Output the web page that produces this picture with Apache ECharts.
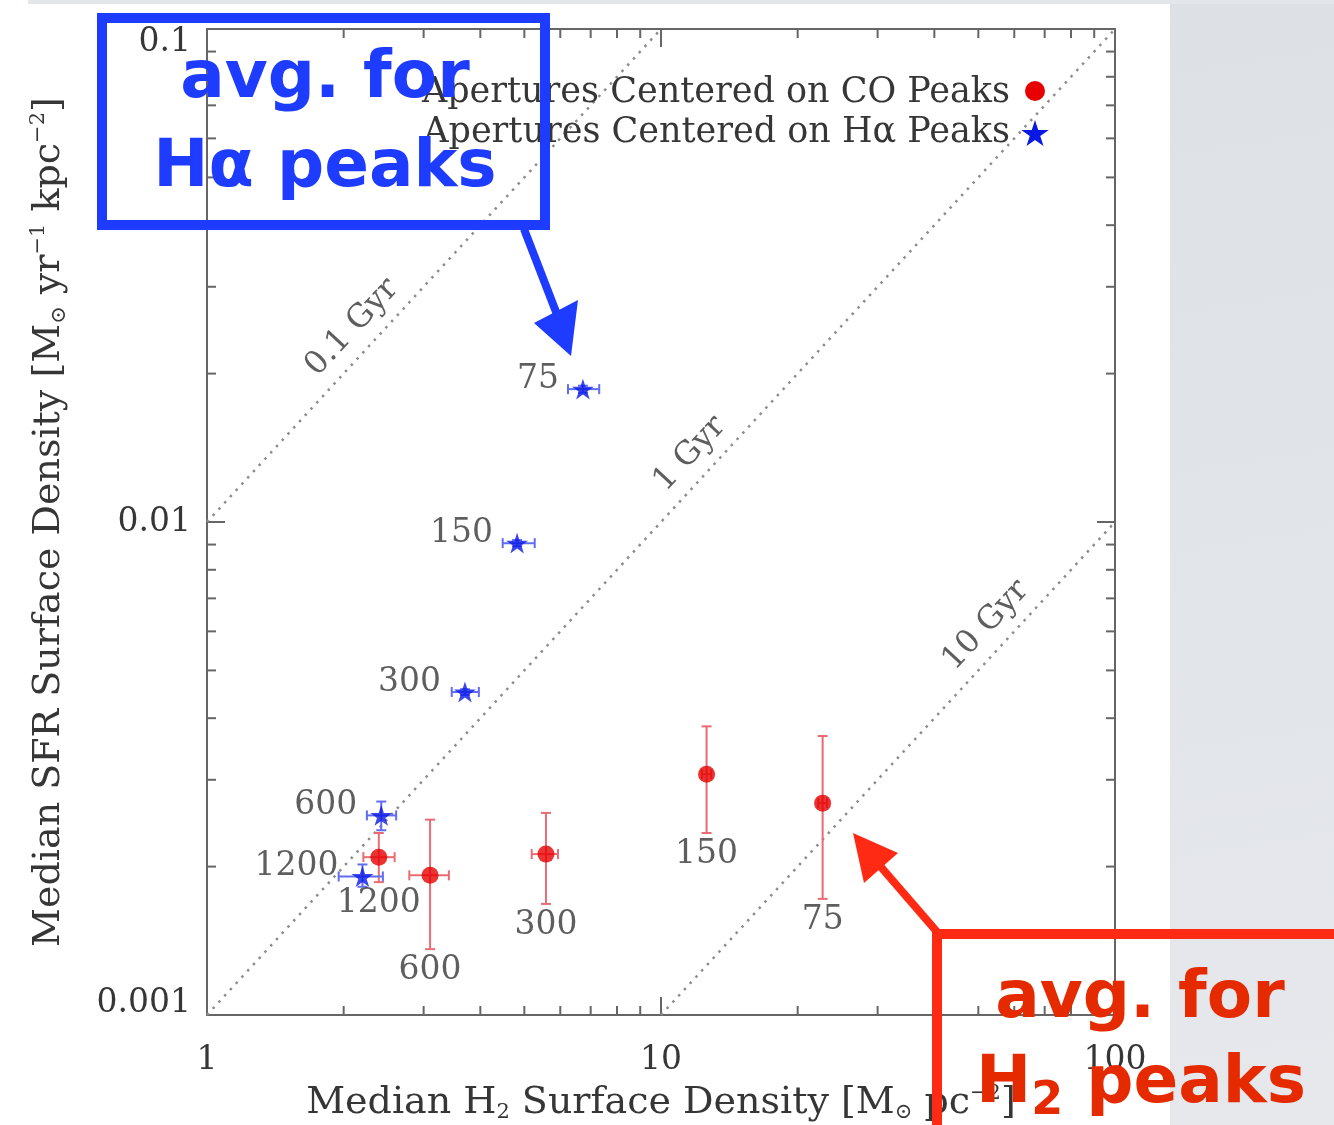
<!DOCTYPE html>
<html>
<head>
<meta charset="utf-8">
<script src="https://cdn.jsdelivr.net/npm/echarts@6/dist/echarts.min.js"></script>
<style>
  html, body { margin: 0; padding: 0; background: #ffffff; }
  #chart { width: 1334px; height: 1125px; }
</style>
</head>
<body>
<div id="chart"></div>
<script>
// Aperture sizes (pc) attached to each point
const scaleLabels = ['75', '150', '300', '600', '1200'];

// Apertures centered on CO peaks: median H2 / SFR surface density and their ranges
const coH2 = [22.7, 12.6, 5.58, 3.10, 2.39];
const coSFR = [0.00269, 0.00308, 0.00212, 0.00192, 0.00209];
const coH2Low = [22.2, 12.3, 5.19, 2.79, 2.21];
const coH2High = [23.2, 12.9, 5.93, 3.41, 2.59];
const coSFRLow = [0.00172, 0.00234, 0.00168, 0.00136, 0.00186];
const coSFRHigh = [0.00368, 0.00385, 0.00257, 0.00249, 0.00234];

// Apertures centered on H-alpha peaks
const haH2 = [6.73, 4.82, 3.70, 2.42, 2.20];
const haSFR = [0.0186, 0.00906, 0.00452, 0.00254, 0.00191];
const haH2Low = [6.24, 4.48, 3.46, 2.25, 1.95];
const haH2High = [7.31, 5.27, 3.97, 2.61, 2.44];
const haSFRLow = [0.0183, 0.00893, 0.00446, 0.00237, 0.00182];
const haSFRHigh = [0.0189, 0.00919, 0.00458, 0.00271, 0.00202];

// Constant depletion-time lines, as [H2, SFR] end points inside the frame
const gyrNames = ['0.1 Gyr', '1 Gyr', '10 Gyr'];
const gyrLines = [
  [[1, 0.01], [10, 0.1]],
  [[1, 0.001], [100, 0.1]],
  [[10, 0.001], [100, 0.01]]
];
// where along each line its name is written
const gyrLabelAt = [[2.29, 0.0229], [12.7, 0.0127], [57, 0.0057]];

// axis ticks
const xTickLabels = ['1', '10', '100'];
const yTickLabels = ['0.001', '0.01', '0.1'];
const xMinorTicks = [2, 3, 4, 5, 6, 7, 8, 9, 20, 30, 40, 50, 60, 70, 80, 90];
const yMinorTicks = [0.002, 0.003, 0.004, 0.005, 0.006, 0.007, 0.008, 0.009,
                     0.02, 0.03, 0.04, 0.05, 0.06, 0.07, 0.08, 0.09];

const CO_NAME = 'Apertures Centered on CO Peaks';
const HA_NAME = 'Apertures Centered on H\u03b1 Peaks';

const SERIF = '"DejaVu Serif", "Liberation Serif", serif';
const CALLOUT = '"DejaVu Sans", "Open Sans", sans-serif';
const AXIS_GREY = '#666666';
const TEXT_GREY = '#363636';
const CO_RED = '#e60000';
const HA_BLUE = '#0a18e6';

// five-pointed star outline in a 100-unit box
const STAR_PTS = [[50, 0], [61.2, 34.6], [97.6, 34.5], [68.1, 55.9], [79.4, 90.5],
                  [50, 69], [20.6, 90.5], [31.9, 55.9], [2.4, 34.5], [38.8, 34.6]];
const STAR = 'path://M' + STAR_PTS.map(p => p[0] + ',' + p[1]).join('L') + 'Z';

function starAt(cx, cy, size) {
  const k = size / 100;
  return STAR_PTS.map(p => [cx + (p[0] - 50) * k, cy + (p[1] - 45.25) * k]);
}

function rows(x, y, xl, xh, yl, yh) {
  return x.map((v, i) => [v, y[i], xl[i], xh[i], yl[i], yh[i]]);
}

// error bars with small caps, drawn through the axis scales
function errorBars(color) {
  return function (params, api) {
    const x = api.value(0), y = api.value(1);
    const pL = api.coord([api.value(2), y]);
    const pR = api.coord([api.value(3), y]);
    const pB = api.coord([x, api.value(4)]);
    const pT = api.coord([x, api.value(5)]);
    const cap = 5;
    const seg = (x1, y1, x2, y2) => ({
      type: 'line',
      shape: { x1: x1, y1: y1, x2: x2, y2: y2 },
      style: { stroke: color, lineWidth: 2 }
    });
    return {
      type: 'group',
      children: [
        seg(pL[0], pL[1], pR[0], pR[1]),
        seg(pL[0], pL[1] - cap, pL[0], pL[1] + cap),
        seg(pR[0], pR[1] - cap, pR[0], pR[1] + cap),
        seg(pB[0], pB[1], pT[0], pT[1]),
        seg(pB[0] - cap, pB[1], pB[0] + cap, pB[1]),
        seg(pT[0] - cap, pT[1], pT[0] + cap, pT[1])
      ]
    };
  };
}

// inward minor ticks on all four sides of the frame
function minorTicks(dir) {
  return function (params, api) {
    const cs = params.coordSys;
    const len = 9;
    const st = { stroke: AXIS_GREY, lineWidth: 2 };
    if (dir === 'x') {
      const px = api.coord([api.value(0), api.value(1)])[0];
      return { type: 'group', children: [
        { type: 'line', shape: { x1: px, y1: cs.y + cs.height, x2: px, y2: cs.y + cs.height - len }, style: st },
        { type: 'line', shape: { x1: px, y1: cs.y, x2: px, y2: cs.y + len }, style: st }
      ] };
    }
    const py = api.coord([api.value(0), api.value(1)])[1];
    return { type: 'group', children: [
      { type: 'line', shape: { x1: cs.x, y1: py, x2: cs.x + len, y2: py }, style: st },
      { type: 'line', shape: { x1: cs.x + cs.width, y1: py, x2: cs.x + cs.width - len, y2: py }, style: st }
    ] };
  };
}

const titleRich = {
  sub: { fontFamily: SERIF, fontSize: 21, color: TEXT_GREY, lineHeight: 22, verticalAlign: 'bottom' },
  sup: { fontFamily: SERIF, fontSize: 21, color: TEXT_GREY, lineHeight: 22, verticalAlign: 'top' }
};

const tickRich = {
  hi: { fontFamily: SERIF, fontSize: 33, color: TEXT_GREY, padding: [26, 0, 0, 0] },
  lo: { fontFamily: SERIF, fontSize: 33, color: TEXT_GREY, padding: [0, 0, 24, 0] }
};

const frameAxis = {
  type: 'log',
  logBase: 10,
  axisLine: { show: true, lineStyle: { color: AXIS_GREY, width: 2 } },
  axisTick: { show: true, inside: true, length: 18, lineStyle: { color: AXIS_GREY, width: 2 } },
  splitLine: { show: false },
  minorTick: { show: false }
};

const chart = echarts.init(document.getElementById('chart'), null, { renderer: 'canvas' });

const gyrSeries = gyrLines.map((pts, i) => ({
  type: 'line',
  name: gyrNames[i],
  data: pts,
  symbol: 'none',
  silent: true,
  z: 1,
  lineStyle: { color: '#8c8c8c', width: 2.5, type: [2.5, 6] }
}));

chart.setOption({
  backgroundColor: '#ffffff',
  animation: false,
  grid: { left: 207, right: 219, top: 29, bottom: 110, containLabel: false, outerBoundsMode: 'none' },
  xAxis: [
    Object.assign({}, frameAxis, {
      min: 1, max: 100, position: 'bottom',
      axisLabel: {
        fontFamily: SERIF, fontSize: 33, color: TEXT_GREY, margin: 29,
        formatter: v => xTickLabels[Math.round(Math.log10(v))]
      },
      name: 'Median H{sub|2} Surface Density [M{sub|\u2299} pc{sup|\u22122}]',
      nameLocation: 'middle',
      nameGap: 68,
      nameTextStyle: { fontFamily: SERIF, fontSize: 38, color: TEXT_GREY, lineHeight: 40, rich: titleRich }
    }),
    Object.assign({}, frameAxis, {
      min: 1, max: 100, position: 'top',
      axisLabel: { show: false }
    })
  ],
  yAxis: [
    Object.assign({}, frameAxis, {
      min: 0.001, max: 0.1, position: 'left',
      axisLabel: {
        fontFamily: SERIF, fontSize: 33, color: TEXT_GREY, margin: 16,
        formatter: function (v) {
          const k = Math.round(Math.log10(v)) + 3;
          if (k === 0) return '{lo|' + yTickLabels[k] + '}';
          if (k === yTickLabels.length - 1) return '{hi|' + yTickLabels[k] + '}';
          return yTickLabels[k];
        },
        rich: tickRich
      },
      name: 'Median SFR Surface Density [M{sub|\u2299} yr{sup|\u22121} kpc{sup|\u22122}]',
      nameLocation: 'middle',
      nameGap: 137,
      nameRotate: 90,
      nameTextStyle: { fontFamily: SERIF, fontSize: 38, color: TEXT_GREY, lineHeight: 42, rich: titleRich }
    }),
    Object.assign({}, frameAxis, {
      min: 0.001, max: 0.1, position: 'right',
      axisLabel: { show: false }
    })
  ],
  series: gyrSeries.concat([
    {
      type: 'scatter',
      name: 'gyrLabels',
      data: gyrLabelAt.map((p, i) => ({ value: p, name: gyrNames[i] })),
      symbolSize: 0,
      silent: true,
      z: 1,
      label: {
        show: true, position: 'inside', formatter: '{b}', rotate: 47, offset: [0, -25],
        fontFamily: SERIF, fontSize: 32, color: TEXT_GREY
      }
    },
    {
      type: 'custom',
      name: 'coErr',
      renderItem: errorBars('#ea6b73'),
      data: rows(coH2, coSFR, coH2Low, coH2High, coSFRLow, coSFRHigh),
      encode: { x: 0, y: 1 },
      silent: true,
      z: 2
    },
    {
      type: 'custom',
      name: 'haErr',
      renderItem: errorBars('#5f6df2'),
      data: rows(haH2, haSFR, haH2Low, haH2High, haSFRLow, haSFRHigh),
      encode: { x: 0, y: 1 },
      silent: true,
      z: 2
    },
    {
      type: 'scatter',
      name: CO_NAME,
      symbol: 'circle',
      symbolSize: 17,
      itemStyle: { color: CO_RED },
      data: coH2.map((x, i) => ({ value: [x, coSFR[i]], name: scaleLabels[i] })),
      z: 3
    },
    {
      type: 'scatter',
      name: HA_NAME,
      symbol: STAR,
      symbolKeepAspect: true,
      symbolSize: 22,
      itemStyle: { color: HA_BLUE },
      data: haH2.map((x, i) => ({ value: [x, haSFR[i]], name: scaleLabels[i] })),
      label: {
        show: true, position: 'left', distance: 13, offset: [0, -10], formatter: '{b}',
        fontFamily: SERIF, fontSize: 33, color: TEXT_GREY
      },
      z: 3
    },
    {
      // aperture sizes written under the CO error bars
      type: 'scatter',
      name: 'coLabels',
      symbolSize: 0,
      silent: true,
      data: coH2.map((x, i) => ({ value: [x, coSFRLow[i]], name: scaleLabels[i] })),
      label: {
        show: true, position: 'bottom', distance: 5, formatter: '{b}',
        fontFamily: SERIF, fontSize: 33, color: TEXT_GREY
      },
      z: 3
    },
    {
      type: 'custom',
      name: 'xMinor',
      renderItem: minorTicks('x'),
      data: xMinorTicks.map(v => [v, 0.01]),
      encode: { x: 0, y: 1 },
      silent: true,
      z: 4
    },
    {
      type: 'custom',
      name: 'yMinor',
      renderItem: minorTicks('y'),
      data: yMinorTicks.map(v => [10, v]),
      encode: { x: 0, y: 1 },
      silent: true,
      z: 4
    }
  ]),
  graphic: [
    // slide background around the figure
    {
      type: 'rect', z: -100, silent: true,
      shape: { x: 1170, y: 0, width: 164, height: 1125 },
      style: { fill: new echarts.graphic.LinearGradient(0, 0, 1, 1, [
        { offset: 0, color: '#dde1e6' }, { offset: 1, color: '#e6e8ec' }
      ]) }
    },
    {
      type: 'rect', z: -100, silent: true,
      shape: { x: 28, y: 0, width: 1306, height: 4 },
      style: { fill: '#e3e6ea' }
    },
    // key: text with the marker on its right
    {
      type: 'text', z: 50, silent: true,
      style: { text: CO_NAME, x: 1010, y: 93, align: 'right', verticalAlign: 'middle',
               font: '35px ' + SERIF, fill: TEXT_GREY }
    },
    {
      type: 'circle', z: 50, silent: true,
      shape: { cx: 1035, cy: 91, r: 10 },
      style: { fill: CO_RED }
    },
    {
      type: 'text', z: 50, silent: true,
      style: { text: HA_NAME, x: 1010, y: 133, align: 'right', verticalAlign: 'middle',
               font: '35px ' + SERIF, fill: TEXT_GREY }
    },
    {
      type: 'polygon', z: 50, silent: true,
      shape: { points: starAt(1035, 133, 29) },
      style: { fill: HA_BLUE }
    },
    // blue call-out
    {
      type: 'rect', z: 100, silent: true,
      shape: { x: 102, y: 18, width: 443, height: 207 },
      style: { fill: 'none', stroke: '#1e3cff', lineWidth: 10 }
    },
    {
      type: 'line', z: 100, silent: true,
      shape: { x1: 524, y1: 229, x2: 563, y2: 330 },
      style: { stroke: '#1e3cff', lineWidth: 8 }
    },
    {
      type: 'polygon', z: 100, silent: true,
      shape: { points: [[571, 356], [534, 323], [578, 300]] },
      style: { fill: '#1e3cff' }
    },
    {
      type: 'text', z: 101, silent: true,
      style: { text: 'avg. for', x: 325, y: 80, align: 'center', verticalAlign: 'middle',
               font: 'bold 66px ' + CALLOUT, fill: '#1e3cff' }
    },
    {
      type: 'text', z: 101, silent: true,
      style: { text: 'H\u03b1 peaks', x: 325, y: 169, align: 'center', verticalAlign: 'middle',
               font: 'bold 66px ' + CALLOUT, fill: '#1e3cff' }
    },
    // red call-out
    {
      type: 'rect', z: 100, silent: true,
      shape: { x: 937, y: 934, width: 500, height: 300 },
      style: { fill: 'none', stroke: '#ff2a14', lineWidth: 10 }
    },
    {
      type: 'line', z: 100, silent: true,
      shape: { x1: 938, y1: 933, x2: 874, y2: 859 },
      style: { stroke: '#ff2a14', lineWidth: 8 }
    },
    {
      type: 'polygon', z: 100, silent: true,
      shape: { points: [[853, 833], [864, 883], [898, 853]] },
      style: { fill: '#ff2a14' }
    },
    {
      type: 'text', z: 101, silent: true,
      style: { text: 'avg. for', x: 1140, y: 1000, align: 'center', verticalAlign: 'middle',
               font: 'bold 66px ' + CALLOUT, fill: '#e62a00' }
    },
    {
      type: 'text', z: 101, silent: true,
      style: {
        text: '{m|H}{s|2}{m| peaks}', x: 1141, y: 1085, align: 'center', verticalAlign: 'middle',
        rich: {
          m: { fontFamily: CALLOUT, fontWeight: 'bold', fontSize: 66, fill: '#e62a00', lineHeight: 80, verticalAlign: 'middle' },
          s: { fontFamily: CALLOUT, fontWeight: 'bold', fontSize: 46, fill: '#e62a00', lineHeight: 46, verticalAlign: 'bottom' }
        }
      }
    }
  ]
});
</script>
</body>
</html>
